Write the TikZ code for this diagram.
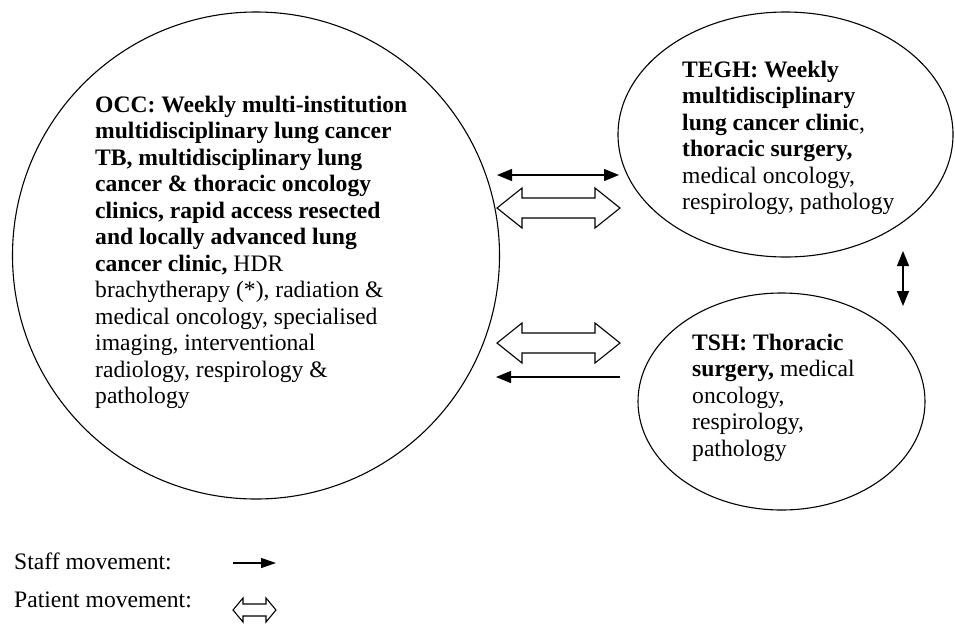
\documentclass[tikz,border=0pt]{standalone}
\usepackage{fontspec}
\setmainfont{Liberation Serif}
\usetikzlibrary{shapes.geometric,arrows.meta,calc}
\tikzset{
  site/.style={draw, line width=1.1pt, inner sep=0pt},
  txt/.style={anchor=base west, align=left, inner sep=0pt, font=\fontsize{23.6}{26.5}\selectfont},
  staff/.style={line width=1.3pt, {Triangle[length=15pt,width=12pt]}-{Triangle[length=15pt,width=12pt]}},
  staffone/.style={line width=1.3pt, -{Triangle[length=15pt,width=12pt]}},
  patient/.style={draw, line width=1.1pt, line join=miter, fill=white}
}
% hollow double arrow between two coordinates (horizontal): #1 left, #2 right, #3 head length, #4 half height, #5 shaft half height
\newcommand{\patarrow}[5]{%
  \draw[patient] (#1) -- ($(#1)+(#3,#4)$) -- ($(#1)+(#3,#5)$) -- ($(#2)+(-#3,#5)$) -- ($(#2)+(-#3,#4)$) -- (#2)
    -- ($(#2)+(-#3,-#4)$) -- ($(#2)+(-#3,-#5)$) -- ($(#1)+(#3,-#5)$) -- ($(#1)+(#3,-#4)$) -- cycle;}
\begin{document}
\begin{tikzpicture}[x=1pt,y=-1pt]
\useasboundingbox (0,0) rectangle (955,625);
% sites
\node[site, circle, minimum size=487pt] (occ) at (256,255.5) {};
\node[site, ellipse, minimum width=335pt, minimum height=245pt] (tegh) at (785.5,134.5) {};
\node[site, ellipse, minimum width=287pt, minimum height=217pt] (tsh) at (781.5,401.5) {};
% texts (anchored at the baseline of their last line)
\node[txt] (occtext) at (95,403.5) {\textbf{OCC: Weekly multi-institution}\\
\textbf{multidisciplinary lung cancer}\\
\textbf{TB, multidisciplinary lung}\\
\textbf{cancer \& thoracic oncology}\\
\textbf{clinics, rapid access resected}\\
\textbf{and locally advanced lung}\\
\textbf{cancer clinic,} HDR\\
brachytherapy (*), radiation \&\\
medical oncology, specialised\\
imaging, interventional\\
radiology, respirology \&\\
pathology};
\node[txt] (teghtext) at (682,209.5) {\textbf{TEGH: Weekly}\\
\textbf{multidisciplinary}\\
\textbf{lung cancer clinic},\\
\textbf{thoracic surgery,}\\
medical oncology,\\
respirology, pathology};
\node[txt] (tshtext) at (692,456) {\textbf{TSH: Thoracic}\\
\textbf{surgery,} medical\\
oncology,\\
respirology,\\
pathology};
% connector end points
\coordinate (s1a) at (497,175);
\coordinate (s1b) at (619,175);
\coordinate (p1a) at (497,208);
\coordinate (p1b) at (620,208);
\coordinate (p2a) at (497,343);
\coordinate (p2b) at (620,343);
\coordinate (s2a) at (620,377);
\coordinate (s2b) at (496,377);
\coordinate (v1a) at (903,251);
\coordinate (v1b) at (903,306);
% connectors
\draw[staff] (s1a) -- (s1b);
\patarrow{p1a}{p1b}{25}{20}{10}
\patarrow{p2a}{p2b}{25}{20}{10}
\draw[staffone] (s2a) -- (s2b);
\draw[staff] (v1a) -- (v1b);
% legend
\node[txt] (lstaff) at (14,569) {Staff movement:};
\node[txt] (lpat) at (14,607) {Patient movement:};
\coordinate (ls1) at (233,563);
\coordinate (ls2) at (276,563);
\coordinate (lp1) at (233,610);
\coordinate (lp2) at (276,610);
\draw[line width=1.3pt, -{Triangle[length=15pt,width=10pt]}] (ls1) -- (ls2);
\patarrow{lp1}{lp2}{10}{12}{6}
\end{tikzpicture}
\end{document}
